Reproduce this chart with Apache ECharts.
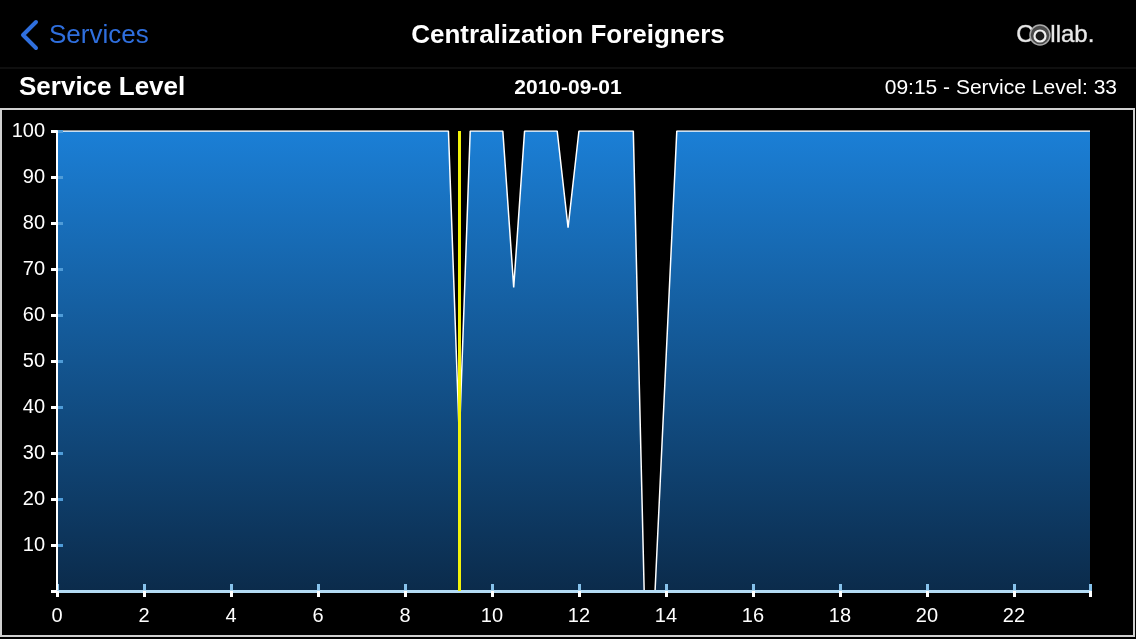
<!DOCTYPE html>
<html>
<head>
<meta charset="utf-8">
<script src="https://cdn.jsdelivr.net/npm/echarts@6/dist/echarts.min.js"></script>
<style>
html,body{margin:0;padding:0;background:#000;}
#chart{width:1136px;height:639px;}
</style>
</head>
<body>
<div id="chart"></div>
<script>
// Hours of the day in 15-minute steps
const hours = [
  0,0.25,0.5,0.75,1,1.25,1.5,1.75,2,2.25,2.5,2.75,3,3.25,3.5,3.75,
  4,4.25,4.5,4.75,5,5.25,5.5,5.75,6,6.25,6.5,6.75,7,7.25,7.5,7.75,
  8,8.25,8.5,8.75,9,9.25,9.5,9.75,10,10.25,10.5,10.75,11,11.25,11.5,11.75,
  12,12.25,12.5,12.75,13,13.25,13.5,13.75,14,14.25,14.5,14.75,15,15.25,15.5,15.75,
  16,16.25,16.5,16.75,17,17.25,17.5,17.75,18,18.25,18.5,18.75,19,19.25,19.5,19.75,
  20,20.25,20.5,20.75,21,21.25,21.5,21.75,22,22.25,22.5,22.75,23,23.25,23.5,23.75
];
// Service level (%) per 15-minute slot
const serviceLevel = [
  100,100,100,100,100,100,100,100,100,100,100,100,100,100,100,100,
  100,100,100,100,100,100,100,100,100,100,100,100,100,100,100,100,
  100,100,100,100,100,33,100,100,100,100,66,100,100,100,100,79,
  100,100,100,100,100,100,0,0,50,100,100,100,100,100,100,100,
  100,100,100,100,100,100,100,100,100,100,100,100,100,100,100,100,
  100,100,100,100,100,100,100,100,100,100,100,100,100,100,100,100
];
const selectedHour = 9.25;
const selectedLabel = '09:15 - Service Level: 33';
const titleText = 'Centralization Foreigners';
const backText = 'Services';
const sectionText = 'Service Level';
const dateText = '2010-09-01';
const xTicks = [0,2,4,6,8,10,12,14,16,18,20,22];
const yTicks = [10,20,30,40,50,60,70,80,90,100];

const points = hours.map((h, i) => [h, serviceLevel[i]]);
const FONT = '"Liberation Sans", Arial, sans-serif';

const chart = echarts.init(document.getElementById('chart'));

const grid = {left: 57, right: 46, top: 131, bottom: 48};

const xBase = {
  type: 'value', min: 0, max: 23.75, interval: 2,
  splitLine: {show: false}
};
const yBase = {
  type: 'value', min: 0, max: 100, interval: 10,
  splitLine: {show: false}
};

chart.setOption({
  backgroundColor: '#000',
  animation: false,
  grid: grid,
  xAxis: [
    Object.assign({}, xBase, {
      z: 4,
      axisLine: {show: true, onZero: false, lineStyle: {color: '#b4dcf5', width: 3}},
      axisTick: {show: true, length: 6, lineStyle: {color: '#fff', width: 3}},
      axisLabel: {
        color: '#fff', fontSize: 20, fontFamily: FONT, margin: 15,
        formatter: v => (xTicks.indexOf(v) >= 0 ? String(v) : '')
      }
    }),
    Object.assign({}, xBase, {
      position: 'bottom',
      z: 3,
      axisLine: {show: false},
      axisTick: {show: true, inside: true, length: 7, lineStyle: {color: '#86c2ec', width: 3}},
      axisLabel: {show: false}
    })
  ],
  yAxis: [
    Object.assign({}, yBase, {
      z: 4,
      axisLine: {show: true, lineStyle: {color: '#fff', width: 2}},
      axisTick: {show: true, length: 6, lineStyle: {color: '#fff', width: 3}},
      axisLabel: {
        color: '#fff', fontSize: 20, fontFamily: FONT, margin: 12,
        formatter: v => (yTicks.indexOf(v) >= 0 ? String(v) : '')
      }
    }),
    Object.assign({}, yBase, {
      position: 'left',
      z: 3,
      axisLine: {show: false},
      axisTick: {show: true, inside: true, length: 6, lineStyle: {color: '#4f9cd8', width: 3}},
      axisLabel: {show: false}
    })
  ],
  series: [{
    type: 'line',
    data: points,
    symbol: 'none',
    z: 1,
    lineStyle: {color: '#ffffff', width: 1.5},
    areaStyle: {
      opacity: 1,
      color: new echarts.graphic.LinearGradient(0, 0, 0, 1, [
        {offset: 0, color: '#1b7fd6'},
        {offset: 1, color: '#0b2b4b'}
      ])
    },
    markLine: {
      silent: true,
      symbol: 'none',
      label: {show: false},
      lineStyle: {color: '#f2f20a', width: 3, type: 'solid'},
      data: [{xAxis: selectedHour}]
    }
  }],
  graphic: [
    // header separator
    {type: 'line', shape: {x1: 0, y1: 68, x2: 1136, y2: 68}, style: {stroke: '#1e1e1e', lineWidth: 1}},
    // back chevron
    {type: 'polyline', shape: {points: [[36, 22], [23, 35], [36, 48]]},
      style: {stroke: '#2f6fde', lineWidth: 4, fill: null, lineCap: 'round', lineJoin: 'round'}},
    {type: 'text', left: 49, top: 23, style: {text: backText, fill: '#2f6fde', font: '26px ' + FONT}},
    {type: 'text', left: 'center', top: 23, style: {text: titleText, fill: '#fff', font: 'bold 26px ' + FONT}},
    // Collab. logo
    {type: 'text', left: 1016, top: 23, style: {text: 'C', fill: '#e8e8e8', font: '24px ' + FONT,
      stroke: '#999', lineWidth: 0.6}},
    {type: 'circle', shape: {cx: 1040, cy: 35, r: 10},
      style: {fill: '#4a4a4a', stroke: '#aaa', lineWidth: 1.5}},
    {type: 'circle', shape: {cx: 1040, cy: 36, r: 5.5},
      style: {fill: '#1a1a1a', stroke: '#f0f0f0', lineWidth: 2.2}},
    {type: 'text', left: 1050, top: 23, style: {text: 'llab.', fill: '#e8e8e8', font: '24px ' + FONT,
      stroke: '#999', lineWidth: 0.6}},
    {type: 'text', left: 19, top: 75, style: {text: sectionText, fill: '#fff', font: 'bold 26px ' + FONT}},
    {type: 'text', left: 'center', top: 78, style: {text: dateText, fill: '#fff', font: 'bold 21px ' + FONT}},
    {type: 'text', right: 19, top: 78, style: {text: selectedLabel, fill: '#fff', font: '21px ' + FONT}},
    // frame around chart area
    {type: 'rect', shape: {x: 1, y: 109, width: 1133, height: 527},
      style: {fill: null, stroke: '#d0d0d0', lineWidth: 2}, z: -1}
  ]
});
</script>
</body>
</html>
